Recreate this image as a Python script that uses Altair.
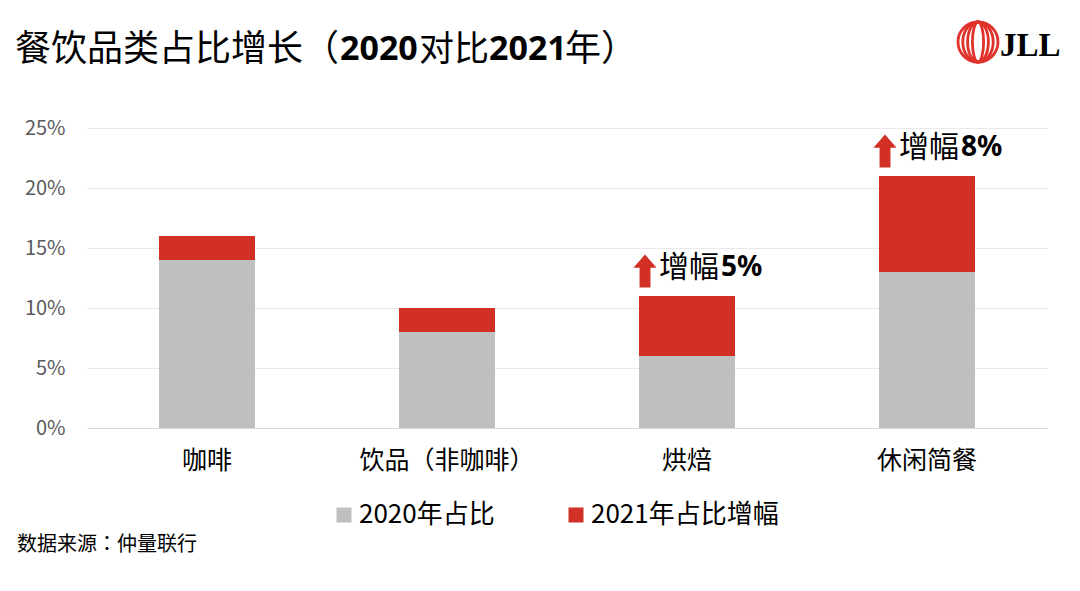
import altair as alt
import pandas as pd

# ---- data ----
categories = ["咖啡", "饮品（非咖啡）", "烘焙", "休闲简餐"]
share_2020 = [0.14, 0.08, 0.06, 0.13]
growth_2021 = [0.02, 0.02, 0.05, 0.08]
series_names = ["2020年占比", "2021年占比增幅"]
series_colors = ["#bfbfbf", "#d22f27"]
y_ticks = [0, 0.05, 0.10, 0.15, 0.20, 0.25]

ann_categories = ["烘焙", "休闲简餐"]
ann_labels = ["5%", "8%"]

FONT = "Noto Sans CJK SC"
LATIN = "Noto Sans"

rows = []
for c, a, g in zip(categories, share_2020, growth_2021):
    rows.append({"cat": c, "series": series_names[0], "value": a, "order": 0})
    rows.append({"cat": c, "series": series_names[1], "value": g, "order": 1})
df = pd.DataFrame(rows)

totals = {c: a + g for c, a, g in zip(categories, share_2020, growth_2021)}
ann_df = pd.DataFrame({
    "cat": ann_categories,
    "total": [totals[c] for c in ann_categories],
    "label": ann_labels,
})

x_enc = alt.X(
    "cat:N",
    sort=categories,
    scale=alt.Scale(domain=categories, paddingInner=0.6, paddingOuter=0.3),
    axis=alt.Axis(
        title=None, labelAngle=0, labelFontSize=25, labelColor="#000000",
        labelFont=FONT, labelPadding=20, ticks=False, domain=True,
        domainColor="#d9d9d9", grid=False,
    ),
)
y_scale = alt.Scale(domain=[0, 0.25], nice=False)

bars = alt.Chart(df).mark_bar().encode(
    x=x_enc,
    y=alt.Y(
        "value:Q", stack="zero", scale=y_scale,
        axis=alt.Axis(
            title=None, values=y_ticks, format=".0%", labelFontSize=20,
            labelColor="#595959", labelFont=FONT, labelPadding=22,
            domain=False, ticks=False, gridColor="#e9e9e9",
        ),
    ),
    color=alt.Color(
        "series:N",
        scale=alt.Scale(domain=series_names, range=series_colors),
        legend=alt.Legend(
            title=None, orient="none", legendX=244, legendY=374,
            direction="horizontal", symbolType="square", symbolSize=225,
            symbolStrokeWidth=0, labelFontSize=26, labelFont=FONT,
            labelColor="#000000", labelOffset=2, columnPadding=68, padding=0,
            labelLimit=0,
        ),
    ),
    order=alt.Order("order:Q"),
)

arrow_path = "M-0.33,1L-0.33,-0.2L-0.7,-0.2L0,-1L0.7,-0.2L0.33,-0.2L0.33,1Z"
arrows = alt.Chart(ann_df).mark_point(
    shape=arrow_path, filled=True, color="#d22f27", opacity=1, size=1089,
).encode(
    x=alt.X("cat:N", sort=categories),
    y=alt.Y("total:Q", scale=y_scale),
    xOffset=alt.value(6),
    yOffset=alt.value(-25),
)

ann_word = alt.Chart(ann_df).mark_text(
    text="增幅", font=FONT, fontSize=30, align="left", baseline="middle",
    dx=-28, dy=-28, color="#000000",
).encode(x=alt.X("cat:N", sort=categories), y=alt.Y("total:Q", scale=y_scale))

ann_num = alt.Chart(ann_df).mark_text(
    font=LATIN, fontSize=28, fontWeight="bold", align="left", baseline="middle",
    dx=34, dy=-28, color="#000000",
).encode(
    x=alt.X("cat:N", sort=categories),
    y=alt.Y("total:Q", scale=y_scale),
    text="label:N",
)

one = pd.DataFrame({"k": [0]})

# title segments (CJK regular, digits bold)
title_parts = [
    ("餐饮品类占比增长（", FONT, "normal", 36, -72),
    ("2020", LATIN, "bold", 34, 253),
    ("对比", FONT, "normal", 35, 332),
    ("2021", LATIN, "bold", 34, 402),
    ("年）", FONT, "normal", 36, 478),
]
title_layers = [
    alt.Chart(one).mark_text(
        text=t, font=f, fontSize=fs, fontWeight=w, align="left",
        baseline="middle", color="#000000",
    ).encode(x=alt.value(xp), y=alt.value(-78))
    for t, f, w, fs, xp in title_parts
]

source = alt.Chart(one).mark_text(
    text="数据来源：仲量联行", font="Noto Sans CJK TC", fontSize=20, align="left",
    baseline="middle", color="#000000",
).encode(x=alt.value(-70), y=alt.value(417))

# JLL logo
logo_layers = []
for rx in [1.0, 0.76, 0.52, 0.28]:
    p = f"M0,-1A{rx},1,0,1,1,0,1A{rx},1,0,1,1,0,-1Z"
    logo_layers.append(
        alt.Chart(one).mark_point(
            shape=p, filled=False, stroke="#e0312b", strokeWidth=2.8,
            opacity=1, size=1600,
        ).encode(x=alt.value(891), y=alt.value(-86))
    )
logo_text = alt.Chart(one).mark_text(
    text="JLL", font="Liberation Serif", fontSize=33, fontWeight="bold",
    align="left", baseline="alphabetic", color="#000000",
).encode(x=alt.value(913), y=alt.value(-72))

chart = alt.layer(
    bars, arrows, ann_word, ann_num, *title_layers, source, *logo_layers, logo_text
).properties(
    width=960,
    height=300,
    padding={"left": 79, "top": 120, "right": 25, "bottom": 155},
    autosize=alt.AutoSizeParams(type="none"),
    background="#ffffff",
).configure_view(stroke=None)

chart.save("out.html", embed_options={"renderer": "svg", "actions": False})
